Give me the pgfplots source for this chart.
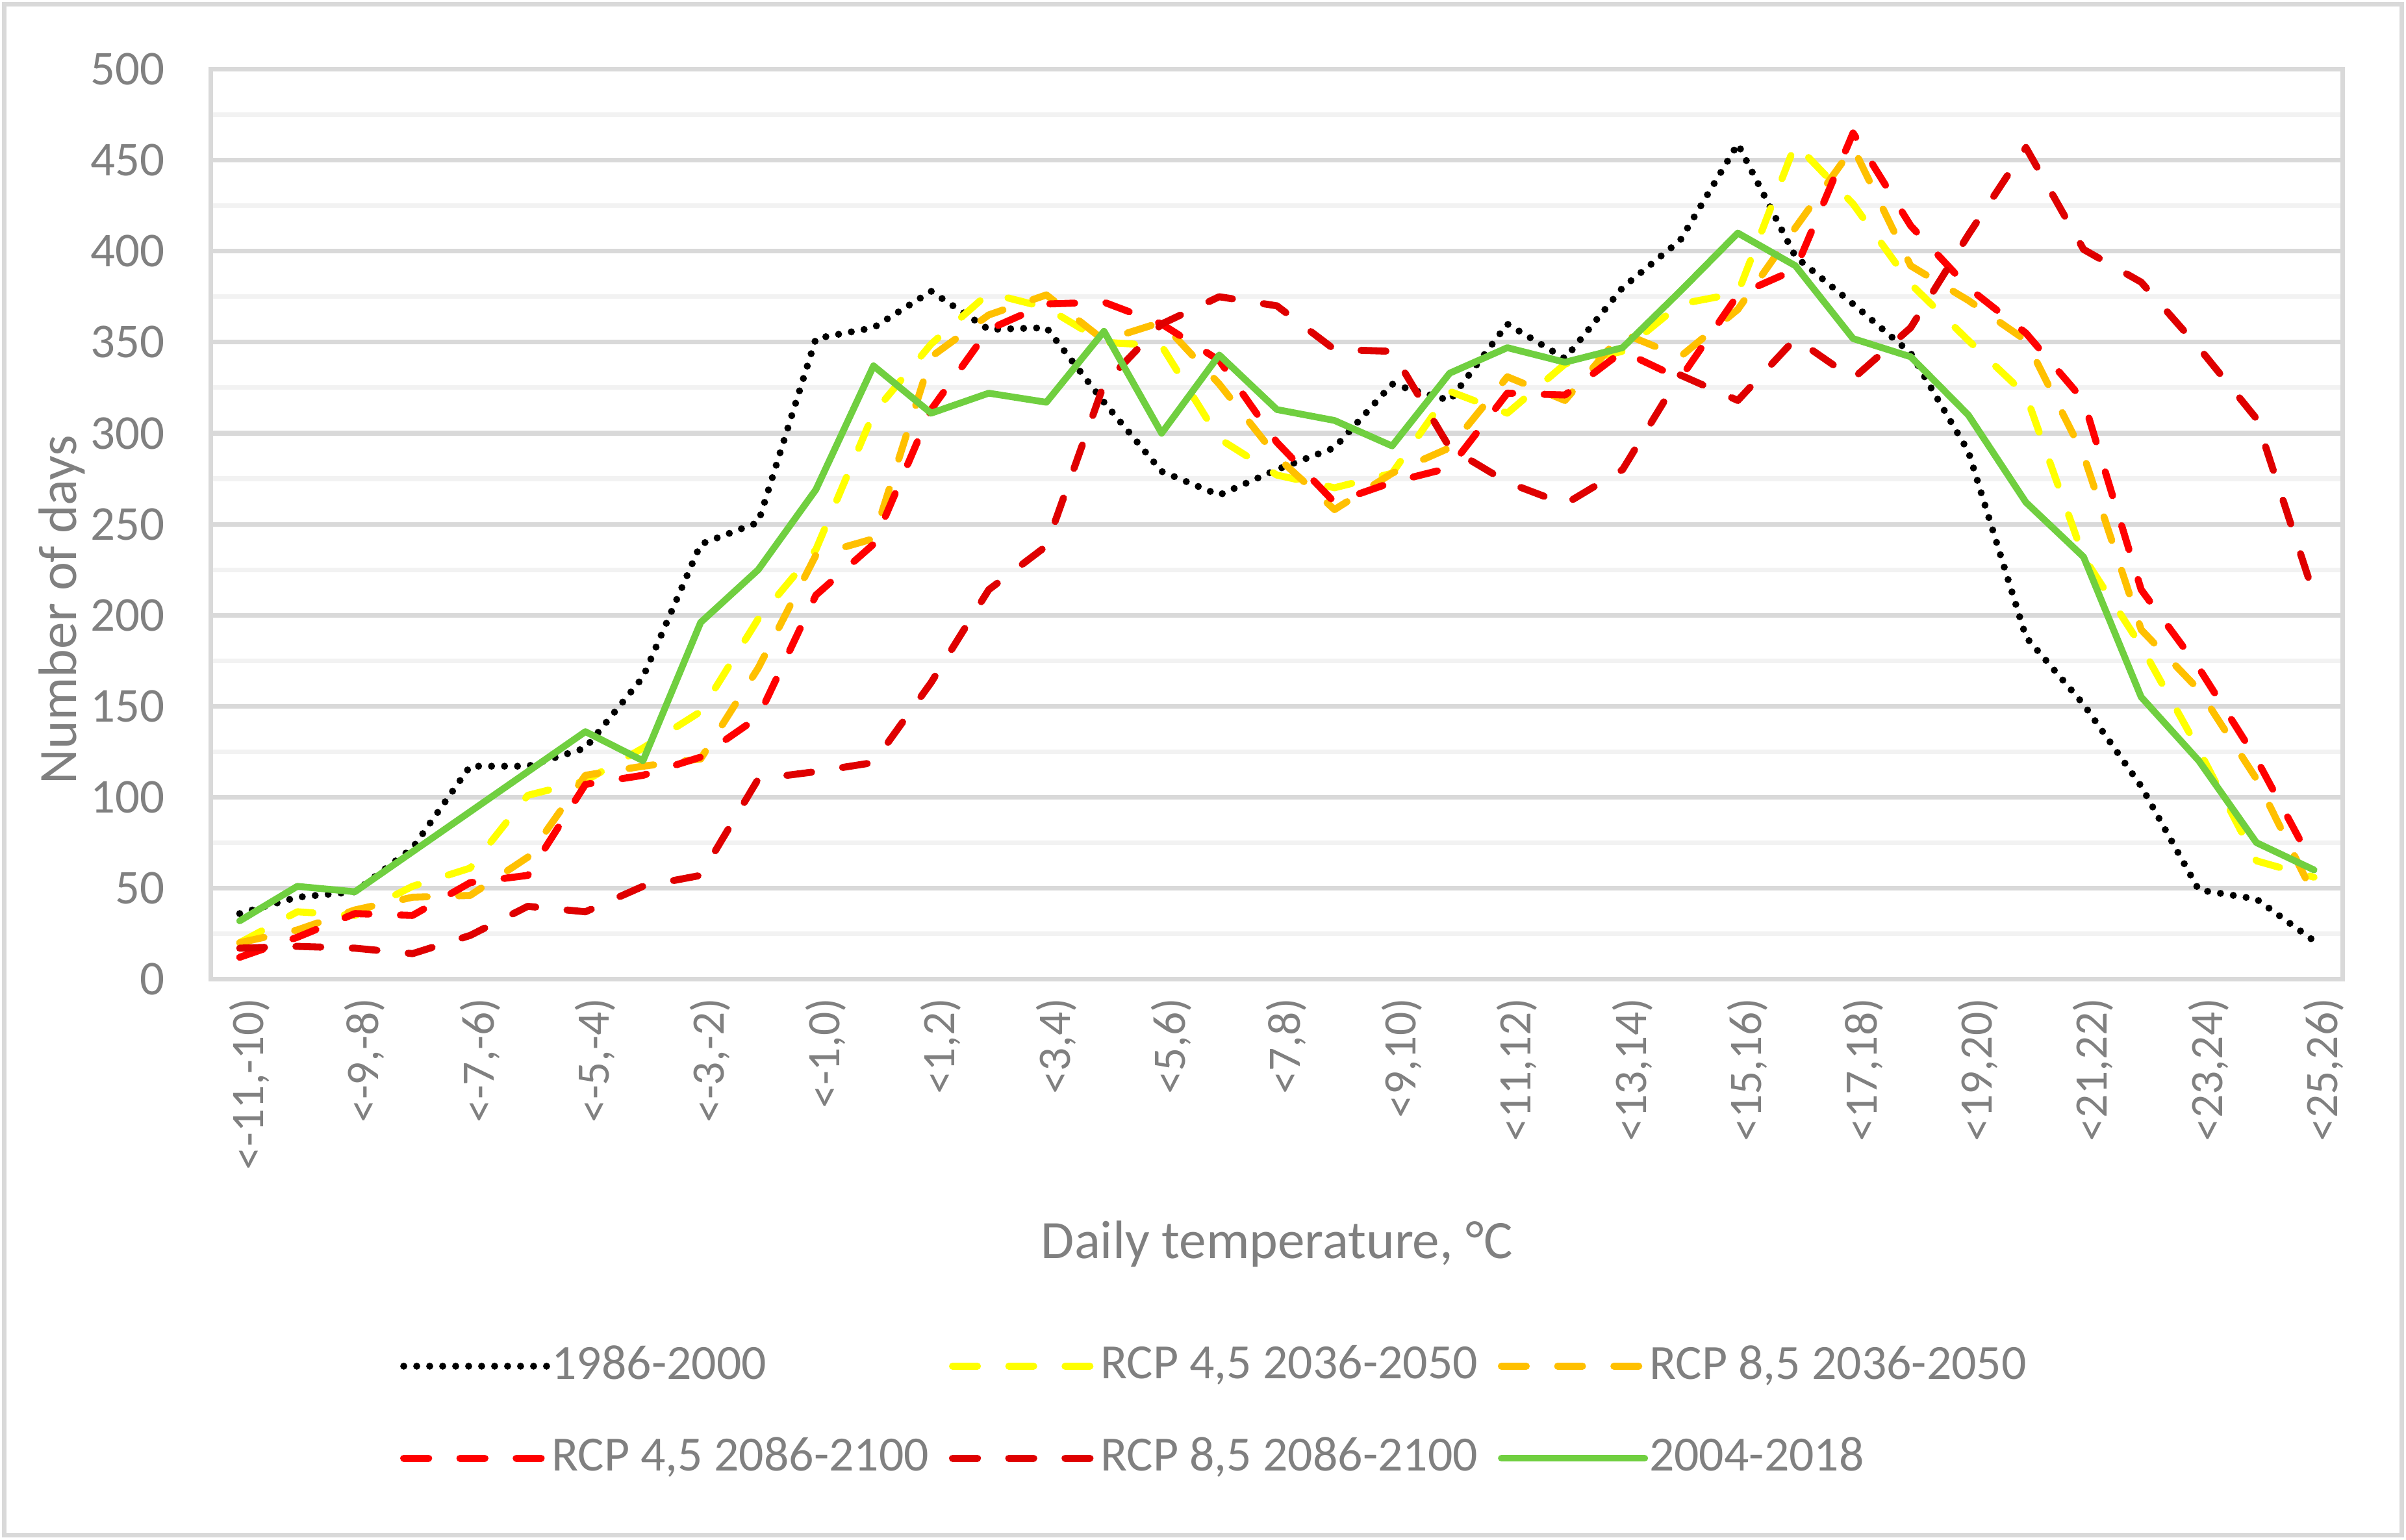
\documentclass[border=0pt]{standalone}
\usepackage{fontspec}
\setmainfont{Carlito}
\usepackage{pgfplots}
\usepackage{pgfplotstable}
\pgfplotsset{compat=1.18}
\definecolor{cyel}{HTML}{FFFF00}
\definecolor{corg}{HTML}{FFC000}
\definecolor{cred}{HTML}{FF0000}
\definecolor{cdred}{HTML}{DF0000}
\definecolor{cgrn}{HTML}{70CF40}
\definecolor{gridmaj}{HTML}{D9D9D9}
\definecolor{gridmin}{HTML}{F2F2F2}
\definecolor{txtgray}{HTML}{808080}

% x: category index (0 = <-11,-10), ..., 36 = <25,26))
% a: 1986-2000, b: RCP4.5 2036-2050, c: RCP8.5 2036-2050,
% d: RCP4.5 2086-2100, e: RCP8.5 2086-2100, g: 2004-2018
\pgfplotstableread{
x a b c d e g
0 36 20 20 12 17 32
1 45 37 27 23 18 51
2 48 35 38 36 17 48
3 72 51 45 35 14 70
4 117 61 46 53 24 92
5 117 101 67 57 40 114
6 127 109 112 107 37 136
7 166 127 117 112 51 120
8 239 147 121 122 57 196
9 251 198 171 144 110 225
10 352 236 233 211 114 269
11 358 311 242 239 119 337
12 378 349 342 313 163 311
13 357 377 365 357 214 322
14 358 369 376 371 238 317
15 317 350 351 372 327 356
16 279 348 361 360 360 300
17 266 297 327 340 375 343
18 280 277 287 295 370 313
19 292 270 258 262 346 307
20 327 278 278 273 345 293
21 318 323 292 281 292 333
22 360 311 331 322 273 347
23 341 338 318 321 261 339
24 380 345 355 345 280 347
25 406 371 342 330 332 378
26 459 377 368 376 318 410
27 397 459 413 390 352 392
28 371 426 457 465 330 352
29 344 382 392 414 358 342
30 290 351 373 380 409 310
31 188 321 351 355 457 262
32 151 232 288 318 401 232
33 106 183 192 214 383 155
34 49 126 159 171 347 120
35 44 65 110 121 308 75
36 21 56 46 62 211 60
}\data

\begin{document}
\begin{tikzpicture}
\path[use as bounding box] (-38.98pt,-103.6pt) rectangle (405.77pt,181.0pt);
\draw[gridmaj, line width=0.8pt] (-38.2pt,-102.8pt) rectangle (404.97pt,180.2pt);
\begin{axis}[
  at={(0,0)}, anchor=south west,
  scale only axis, width=394.1pt, height=168.2pt,
  xmin=-0.5, xmax=36.5, ymin=0, ymax=500,
  xtick={0,2,...,36},
  xticklabels={{<-11,-10)},{<-9,-8)},{<-7,-6)},{<-5,-4)},{<-3,-2)},{<-1,0)},{<1,2)},{<3,4)},{<5,6)},{<7,8)},{<9,10)},{<11,12)},{<13,14)},{<15,16)},{<17,18)},{<19,20)},{<21,22)},{<23,24)},{<25,26)}},
  ytick={0,50,...,500},
  minor ytick={25,75,...,475},
  ymajorgrids, yminorgrids,
  major grid style={draw=gridmaj, line width=0.85pt},
  minor grid style={draw=gridmin, line width=0.85pt},
  axis line style={draw=gridmaj, line width=0.85pt},
  major tick length=0pt, minor tick length=0pt,
  /pgf/number format/assume math mode=true,
  yticklabel style={font=\fontsize{9}{10}\selectfont, text=txtgray, anchor=east, xshift=-5pt},
  xticklabel style={font=\fontsize{8.6}{10}\selectfont, text=txtgray, rotate=90, anchor=east, yshift=-1.8pt},
  xlabel={Daily temperature, °C},
  ylabel={Number of days},
  xlabel style={font=\fontsize{10}{12}\selectfont, text=txtgray, at={(axis description cs:0.5,0)}, anchor=center, yshift=-49pt},
  ylabel style={font=\fontsize{10}{12}\selectfont, text=txtgray, at={(axis description cs:-0.0698,0.406)}, anchor=center},
  legend columns=3,
  legend image code/.code={\draw[#1] (0pt,0pt) -- (26.5pt,0pt);},
  legend style={at={(axis description cs:0,0)}, anchor=north west, xshift=34.8pt, yshift=-67.5pt,
    draw=none, fill=none, inner sep=0pt,
    font=\fontsize{9.1}{11}\selectfont, text=txtgray,
    nodes={inner sep=0pt, anchor=west},
    row sep=9.3pt,
    /tikz/every odd column/.append style={column sep=0.2pt},
    /tikz/every even column/.append style={column sep=5.45pt}},
  every axis plot/.append style={line width=1.3pt, line cap=round, line join=round},
]
\addplot[black, dash pattern=on 0pt off 2.4pt] table[x=x, y=a] {\data};
\addlegendentry{\makebox[68pt][l]{1986-2000}}
\addplot[cyel, dash pattern=on 4.6pt off 5.8pt] table[x=x, y=b] {\data};
\addlegendentry{\makebox[68pt][l]{RCP 4,5 2036-2050}}
\addplot[corg, dash pattern=on 4.6pt off 5.8pt] table[x=x, y=c] {\data};
\addlegendentry{\makebox[68pt][l]{RCP 8,5 2036-2050}}
\addplot[cred, dash pattern=on 4.6pt off 5.8pt] table[x=x, y=d] {\data};
\addlegendentry{\makebox[68pt][l]{RCP 4,5 2086-2100}}
\addplot[cdred, dash pattern=on 4.6pt off 5.8pt] table[x=x, y=e] {\data};
\addlegendentry{\makebox[68pt][l]{RCP 8,5 2086-2100}}
\addplot[cgrn, line width=1.25pt] table[x=x, y=g] {\data};
\addlegendentry{\makebox[68pt][l]{2004-2018}}
\end{axis}
\end{tikzpicture}
\end{document}
